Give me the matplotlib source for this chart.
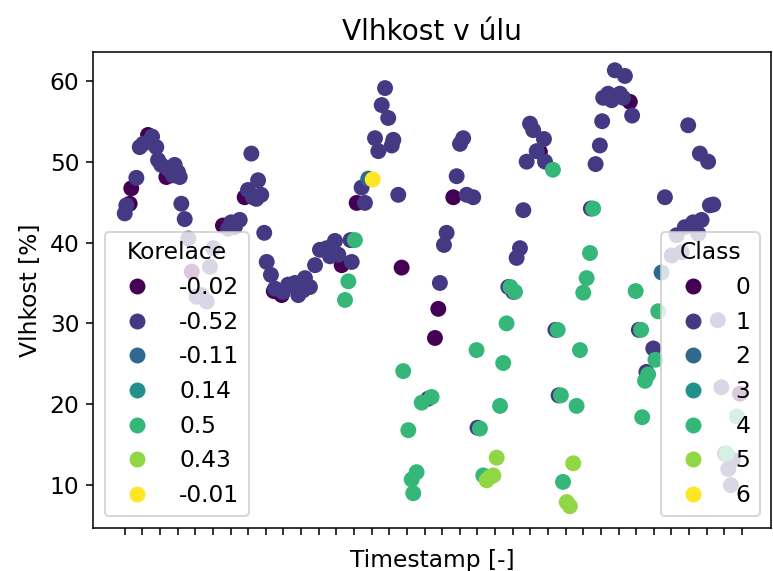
import matplotlib
matplotlib.use("Agg")
import matplotlib.pyplot as plt
from matplotlib.lines import Line2D
import numpy as np

# x = poradi casove znacky (pozice ticku), y = vlhkost [%]
x_c0 = [1.32, 0.37, 0.28, 2.36, 3.80, 6.80, 5.57, 8.45, 8.90, 12.30, 13.15,
        18.63, 15.70, 17.78, 17.59, 23.54, 28.64, 34.88]
y_c0 = [53.3, 46.7, 44.8, 48.1, 36.4, 45.6, 42.1, 34.0, 33.5, 37.2, 44.9,
        45.6, 36.9, 31.8, 28.2, 51.2, 57.4, 21.3]

x_c1 = [1.55, 1.04, 1.51, 1.79, 0.85, 1.89, 2.07, 2.45, 2.83, 3.02, 3.12, 2.74,
        0.66, 0.00, 0.09, 3.21, 3.40, 3.61, 5.02, 4.83, 4.36, 4.65, 4.08,
        7.18, 7.56, 6.99, 7.27, 7.74, 7.46, 6.04, 6.52, 5.86, 6.24, 7.91,
        8.05, 8.29, 8.52, 9.27, 9.65, 9.84, 10.22, 10.50, 10.12, 10.79,
        11.07, 11.45, 11.92, 12.11, 11.64, 12.87, 12.80, 8.97,
        13.43, 13.62, 15.51, 14.76, 14.57, 14.94, 14.19, 15.23, 15.14, 14.38,
        19.19, 19.01, 18.82, 19.39, 19.76, 18.25, 18.10, 17.87, 22.60,
        22.98, 23.16, 23.77, 23.36, 22.79, 23.83, 22.41, 22.22, 21.75, 22.03,
        27.79, 28.36, 27.41, 27.13, 27.61, 28.08, 28.26, 28.77, 27.07, 26.94, 26.70,
        31.95, 32.61, 33.08, 30.63, 33.37, 33.18, 32.71, 32.23, 31.76,
        31.29, 32.52, 31.01, 31.58, 33.63, 33.83, 34.03, 34.48, 34.22, 34.37,
        26.43, 29.97, 29.58, 29.15, 24.42, 24.60, 20.00, 17.21]
y_c1 = [53.1, 52.2, 52.4, 51.8, 51.8, 50.2, 49.6, 49.1, 49.6, 48.7, 48.1, 48.3,
        48.0, 43.6, 44.6, 44.8, 42.9, 40.5, 39.3, 37.0, 33.5, 32.7, 33.3,
        51.0, 47.7, 46.5, 45.6, 45.9, 45.4, 42.5, 42.8, 41.7, 41.9, 41.2,
        37.6, 36.0, 34.3, 34.8, 35.0, 33.5, 35.6, 34.5, 34.1, 37.2,
        39.1, 39.3, 40.2, 38.5, 38.3, 37.6, 40.3, 33.9,
        46.8, 44.9, 45.9, 59.1, 57.0, 55.4, 52.9, 52.7, 52.0, 51.3,
        52.9, 52.2, 48.2, 45.9, 45.6, 41.2, 39.7, 35.0, 44.0,
        54.7, 53.9, 52.8, 51.3, 50.0, 50.0, 39.3, 38.1, 34.5, 33.9,
        61.3, 60.6, 58.4, 57.9, 57.6, 58.4, 57.9, 55.7, 55.0, 52.0, 49.7,
        54.5, 51.0, 50.0, 45.6, 44.7, 44.6, 42.8, 42.5, 41.9,
        40.9, 41.1, 38.4, 38.8, 30.4, 22.1, 13.9, 13.1, 12.0, 10.0,
        44.2, 26.9, 24.0, 29.2, 29.2, 21.1, 17.1, 20.7]

x_c2 = [13.81, 30.44]
y_c2 = [47.9, 36.3]

x_c3 = []
y_c3 = []

x_c4 = [13.05, 12.68, 12.49, 15.79, 16.84, 17.40, 16.08, 16.55, 16.27, 16.36,
        21.87, 22.13, 21.65, 19.95, 21.46, 21.28, 20.14, 20.33,
        24.28, 26.56, 26.38, 26.19, 26.00, 24.55, 25.81, 24.73, 25.62, 24.85,
        28.97, 30.25, 29.28, 30.09, 29.68, 29.50, 29.34, 34.71, 34.13]
y_c4 = [40.3, 35.2, 32.9, 24.1, 20.2, 20.9, 16.8, 11.6, 10.7, 9.0,
        34.5, 33.9, 30.0, 26.7, 25.1, 19.8, 17.0, 11.2,
        49.0, 44.2, 38.7, 35.6, 33.8, 29.2, 26.7, 21.1, 19.8, 10.4,
        34.0, 31.5, 29.2, 25.5, 23.7, 22.9, 18.4, 18.5, 13.9]

x_c5 = [21.09, 20.71, 20.90, 20.52, 25.43, 25.06, 25.24]
y_c5 = [13.4, 11.0, 11.2, 10.6, 12.7, 7.9, 7.4]

x_c6 = [14.06]
y_c6 = [47.8]

classes = [0, 1, 2, 3, 4, 5, 6]
korelace = ["-0.02", "-0.52", "-0.11", "0.14", "0.5", "0.43", "-0.01"]

xs_all = [x_c0, x_c1, x_c2, x_c3, x_c4, x_c5, x_c6]
ys_all = [y_c0, y_c1, y_c2, y_c3, y_c4, y_c5, y_c6]

x = np.concatenate([np.asarray(v, dtype=float) for v in xs_all])
y = np.concatenate([np.asarray(v, dtype=float) for v in ys_all])
c = np.concatenate([np.full(len(v), k) for k, v in zip(classes, xs_all)])

plt.rcParams["font.size"] = 12

fig = plt.figure(figsize=(773 / 140, 571 / 140), dpi=140)
ax = fig.add_axes([0.1203, 0.0753, 0.8777, 0.8342])

cmap = plt.get_cmap("viridis")
ax.scatter(x, y, c=c, cmap=cmap, vmin=0, vmax=6, s=67, linewidths=0)

ax.set_xlim(-1.8, 36.67)
ax.set_ylim(4.7, 63.6)
ax.set_xticks(np.arange(36))
ax.set_xticklabels([])
ax.set_yticks([10, 20, 30, 40, 50, 60])

ax.set_title("Vlhkost v úlu")
ax.set_xlabel("Timestamp [-]")
ax.set_ylabel("Vlhkost [%]")

handles = [Line2D([0], [0], ls="", marker="o", markersize=8.2, markeredgewidth=0,
                  color=cmap(k / 6)) for k in classes]

leg1 = ax.legend(handles, korelace, title="Korelace", loc="lower left")
ax.add_artist(leg1)
ax.legend(handles, [str(k) for k in classes], title="Class", loc="lower right")

fig.savefig("out.png", dpi=140)
